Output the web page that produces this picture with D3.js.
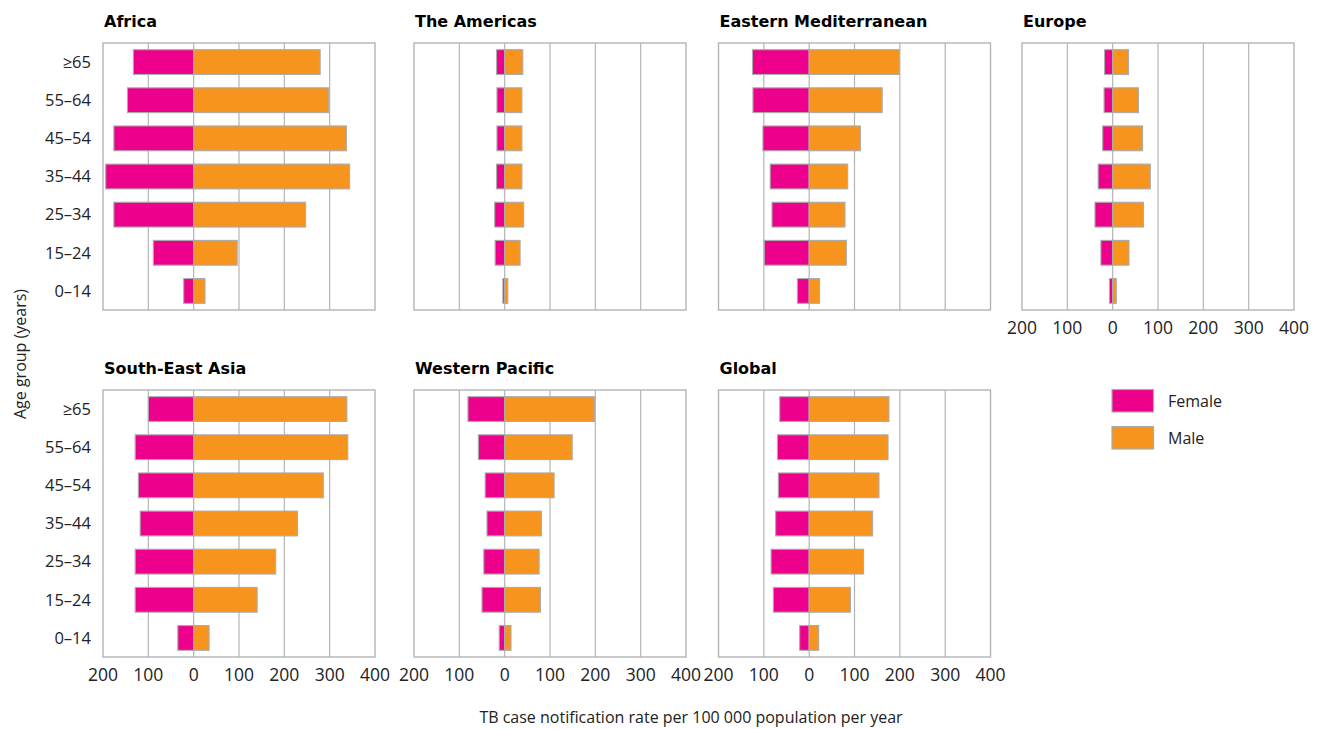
<!DOCTYPE html>
<html>
<head>
<meta charset="utf-8">
<script src="https://cdn.jsdelivr.net/npm/d3@7"></script>
<style>
  html, body { margin: 0; padding: 0; background: #fff; }
  svg { display: block; }
</style>
</head>
<body>
<svg id="chart" width="1327" height="729"></svg>
<script>
// ---------- DATA ----------
const ageGroups = ["0–14", "15–24", "25–34", "35–44", "45–54", "55–64", "≥65"];
const regions = ["Africa", "The Americas", "Eastern Mediterranean", "Europe", "South-East Asia", "Western Pacific", "Global"];
const xTickValues = [-200, -100, 0, 100, 200, 300, 400];
const xTickLabels = ["200", "100", "0", "100", "200", "300", "400"];
const seriesNames = ["Female", "Male"];

const africaFemale   = [22, 89, 176, 194, 176, 146, 133];
const africaMale     = [25, 96, 247, 344, 337, 298, 279];
const americasFemale = [4, 21, 22, 18, 17, 17, 18];
const americasMale   = [7, 34, 42, 38, 38, 38, 40];
const emedFemale     = [26, 99, 82, 86, 102, 124, 125];
const emedMale       = [23, 82, 79, 85, 113, 161, 199];
const europeFemale   = [7, 26, 39, 32, 22, 19, 18];
const europeMale     = [8, 36, 68, 83, 66, 57, 35];
const seaFemale      = [35, 129, 129, 118, 122, 129, 100];
const seaMale        = [34, 140, 181, 229, 286, 340, 338];
const wpFemale       = [12, 50, 46, 39, 43, 58, 81];
const wpMale         = [14, 79, 76, 81, 109, 149, 198];
const globalFemale   = [21, 79, 84, 74, 68, 70, 65];
const globalMale     = [21, 91, 120, 140, 154, 174, 176];

const femaleByRegion = [africaFemale, americasFemale, emedFemale, europeFemale, seaFemale, wpFemale, globalFemale];
const maleByRegion   = [africaMale, americasMale, emedMale, europeMale, seaMale, wpMale, globalMale];

// ---------- LAYOUT / STYLE ----------
const colLefts = [103, 414, 718.5, 1022];
const rowTops = [43, 390];
const panelW = 272, panelH = 267;
const panelPos = [[0,0],[1,0],[2,0],[3,0],[0,1],[1,1],[2,1]];
const showYLabels = [true, false, false, false, true, false, false];
const showXLabels = [false, false, false, true, true, true, true];
const colors = { Female: "#EC008C", Male: "#F7941D" };
const gridColor = "#b4b4b4";
const barStroke = "#ababab";
const font = "'Open Sans', 'DejaVu Sans', sans-serif";
const titleFont = "'DejaVu Sans', Roboto, sans-serif";

const svg = d3.select("#chart");

const x = d3.scaleLinear().domain([-200, 400]).range([0, panelW]);
const y = d3.scaleBand().domain(ageGroups.slice().reverse()).range([0, panelH]).paddingInner(0.35).paddingOuter(0.175);

regions.forEach((region, i) => {
  const [c, r] = panelPos[i];
  const g = svg.append("g").attr("transform", `translate(${colLefts[c]},${rowTops[r]})`);

  // title
  g.append("text")
    .attr("x", 1).attr("y", -16.5)
    .attr("font-family", titleFont).attr("font-weight", 700)
    .attr("font-size", 16).attr("fill", "#000")
    .text(region);

  // gridlines
  g.selectAll("line.grid").data(xTickValues.slice(1, -1)).enter().append("line")
    .attr("x1", d => x(d)).attr("x2", d => x(d))
    .attr("y1", 0).attr("y2", panelH)
    .attr("stroke", gridColor).attr("stroke-width", 1.2);

  // border
  g.append("rect").attr("x", 0).attr("y", 0).attr("width", panelW).attr("height", panelH)
    .attr("fill", "none").attr("stroke", gridColor).attr("stroke-width", 1.4);

  const fem = femaleByRegion[i], mal = maleByRegion[i];
  const rows = ageGroups.map((a, k) => ({ age: a, f: fem[k], m: mal[k] }));

  g.selectAll("rect.f").data(rows).enter().append("rect")
    .attr("x", d => x(-d.f)).attr("y", d => y(d.age))
    .attr("width", d => x(0) - x(-d.f)).attr("height", y.bandwidth())
    .attr("fill", colors.Female).attr("stroke", barStroke).attr("stroke-width", 1.1);

  g.selectAll("rect.m").data(rows).enter().append("rect")
    .attr("x", x(0)).attr("y", d => y(d.age))
    .attr("width", d => x(d.m) - x(0)).attr("height", y.bandwidth())
    .attr("fill", colors.Male).attr("stroke", barStroke).attr("stroke-width", 1.1);

  if (showYLabels[i]) {
    g.selectAll("text.ylab").data(ageGroups).enter().append("text")
      .attr("x", -12).attr("y", d => y(d) + y.bandwidth() / 2)
      .attr("dy", "0.35em").attr("text-anchor", "end")
      .attr("font-family", font).attr("font-size", 16.5).attr("fill", "#222")
      .text(d => d);
  }
  if (showXLabels[i]) {
    g.selectAll("text.xlab").data(xTickValues).enter().append("text")
      .attr("x", d => x(d)).attr("y", panelH + 18)
      .attr("dy", "0.35em").attr("text-anchor", "middle")
      .attr("font-family", font).attr("font-size", 17.5).attr("fill", "#222")
      .text((d, k) => xTickLabels[k]);
  }
});

// axis titles
svg.append("text")
  .attr("transform", "translate(20,354) rotate(-90)")
  .attr("text-anchor", "middle").attr("dy", "0.35em")
  .attr("font-family", font).attr("font-size", 16).attr("fill", "#222")
  .text("Age group (years)");

svg.append("text")
  .attr("x", 691).attr("y", 717).attr("dy", "0.35em")
  .attr("text-anchor", "middle")
  .attr("font-family", font).attr("font-size", 16).attr("fill", "#222")
  .text("TB case notification rate per 100 000 population per year");

// legend
const legend = svg.append("g").attr("transform", "translate(1112,389.5)");
seriesNames.forEach((s, k) => {
  const lg = legend.append("g").attr("transform", `translate(0,${k * 37})`);
  lg.append("rect").attr("width", 41.5).attr("height", 22.5)
    .attr("fill", colors[s]).attr("stroke", barStroke).attr("stroke-width", 1.2);
  lg.append("text").attr("x", 56).attr("y", 11.5).attr("dy", "0.35em")
    .attr("font-family", font).attr("font-size", 16).attr("fill", "#222")
    .text(s);
});
</script>
</body>
</html>
